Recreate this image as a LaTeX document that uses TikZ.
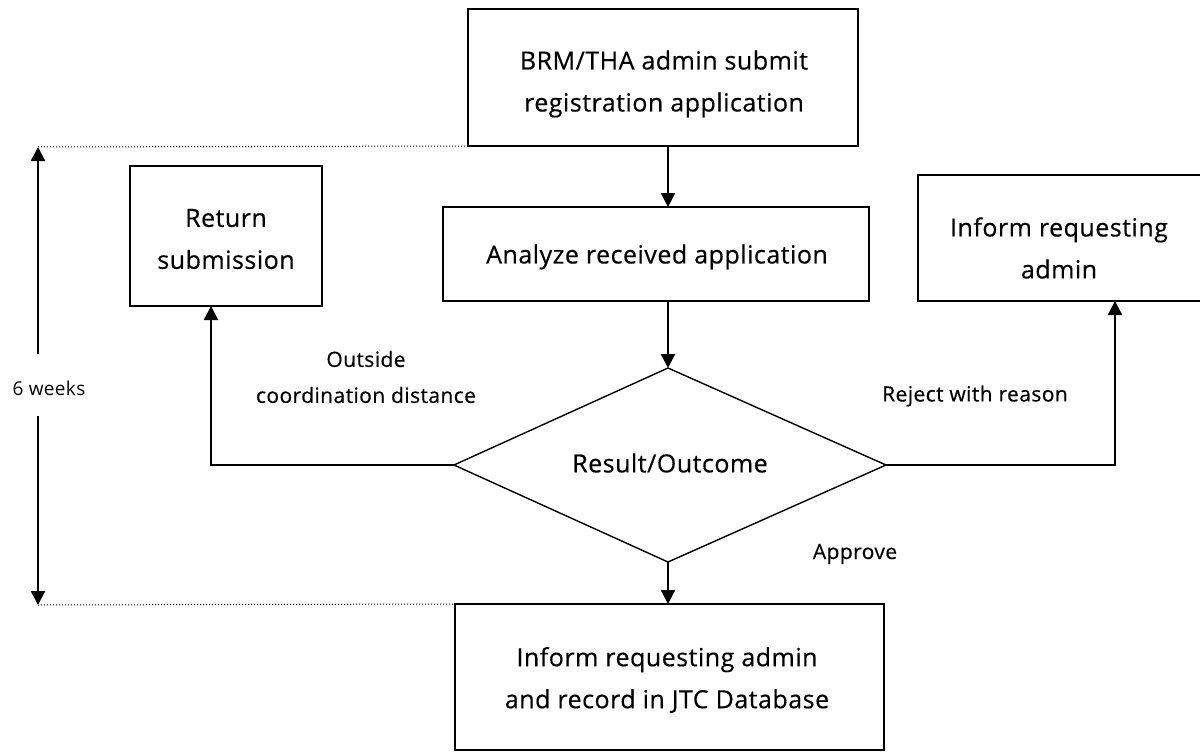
\documentclass[tikz,border=0pt]{standalone}
\usepackage{fontspec}
\setmainfont{Open Sans}[FakeBold=0.4,LetterSpace=2]
\newfontfamily\lightfont{Open Sans}[LetterSpace=2]
\usetikzlibrary{arrows.meta}
\begin{document}
\begin{tikzpicture}[x=1pt,y=-1pt,
  box/.style={draw,line width=1.8pt,inner sep=0pt},
  conn/.style={line width=2.4pt,-{Triangle[length=14pt,width=14pt]}},
  lbl/.style={font=\fontsize{21}{36}\selectfont,align=center},
  btxt/.style={font=\fontsize{25}{42}\selectfont,align=center}]
\useasboundingbox (0,0) rectangle (1200,752);
% boxes
\draw[box] (468,9) rectangle (858,146);
\node[btxt] (tt) at (664,84) {BRM/THA admin submit\\registration application};
\coordinate (top) at (668,146);
\draw[box] (130,166) rectangle (322,306);
\node[btxt] (rt) at (226,239) {Return\\submission};
\coordinate (ret) at (211,306);
\draw[box] (443,207) rectangle (869,301);
\node[btxt] (at) at (657,257) {Analyze received application};
\coordinate (anT) at (668,207);
\coordinate (anB) at (668,301);
\draw[box] (918,175) rectangle (1201,301);
\node[btxt] (it) at (1059,248) {Inform requesting\\admin};
\coordinate (inf) at (1115,301);
\draw[box] (455,604) rectangle (884,750);
\node[btxt] (bt) at (667,680) {Inform requesting admin\\and record in JTC Database};
\coordinate (botT) at (668,604);
% diamond
\coordinate (dT) at (668,368);
\coordinate (dB) at (668,562);
\coordinate (dL) at (454,465);
\coordinate (dR) at (886,465);
\draw[line width=1.4pt] (dT) -- (dR) -- (dB) -- (dL) -- cycle;
\node[btxt] (res) at (670,463) {Result/Outcome};
% connectors
\draw[conn] (top) -- (anT);
\draw[conn] (anB) -- (dT);
\draw[conn] (dB) -- (botT);
\draw[conn] (dL) -| (ret);
\draw[conn] (dR) -| (inf);
% labels
\node[lbl] (l1) at (366,377) {Outside\\coordination distance};
\node[lbl] (l2) at (975,396) {Reject with reason};
\node[lbl] (l3) at (855,554) {Approve};
% 6 weeks
\coordinate (wT) at (38,147);
\coordinate (wB) at (38,605);
\coordinate (wg1) at (38,354);
\coordinate (wg2) at (38,416);
\draw[dotted,line width=1pt] (wT) -- (468,146);
\draw[dotted,line width=1pt] (wB) -- (455,604);
\draw[line width=2.4pt,-{Triangle[length=14pt,width=14pt]}] (wg1) -- (wT);
\draw[line width=2.4pt,-{Triangle[length=14pt,width=14pt]}] (wg2) -- (wB);
\node[font=\lightfont\fontsize{19}{20}\selectfont] (wk) at (49,388) {6 weeks};
\end{tikzpicture}
\end{document}
